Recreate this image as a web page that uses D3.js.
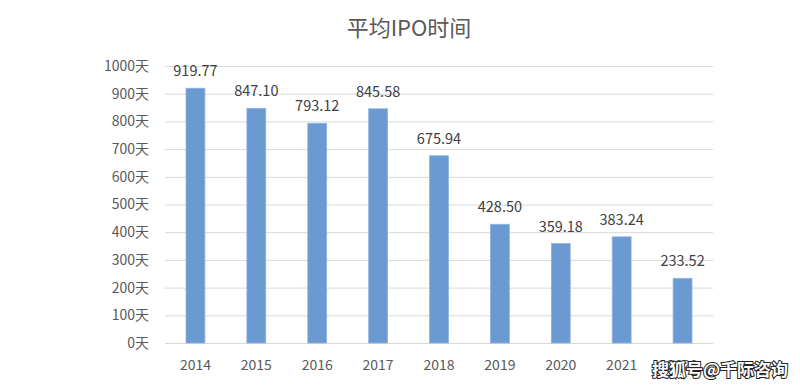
<!DOCTYPE html>
<html>
<head>
<meta charset="utf-8">
<script src="https://cdn.jsdelivr.net/npm/d3@7"></script>
<style>
  body { margin: 0; background: #fff; }
  text { font-family: "Noto Sans CJK SC", "Noto Sans", sans-serif; }
</style>
</head>
<body>
<svg width="800" height="387"></svg>
<script>
// data
var years = ["2014", "2015", "2016", "2017", "2018", "2019", "2020", "2021", "2022"];
var days = [919.77, 847.10, 793.12, 845.58, 675.94, 428.50, 359.18, 383.24, 233.52];
var yTicks = [0, 100, 200, 300, 400, 500, 600, 700, 800, 900, 1000];

var svg = d3.select("svg");
var plotLeft = 165, plotRight = 713, plotTop = 66, plotBottom = 343;

var x = d3.scaleBand()
    .domain(years)
    .range([plotLeft, plotRight])
    .paddingInner(0.69)
    .paddingOuter(0.345);

var y = d3.scaleLinear()
    .domain([0, 1000])
    .range([plotBottom, plotTop]);

// title
svg.append("text")
    .attr("x", 409)
    .attr("y", 36)
    .attr("text-anchor", "middle")
    .attr("font-size", 22)
    .attr("fill", "#595959")
    .text("平均IPO时间");

// grid + y labels
var yAxis = d3.axisLeft(y)
    .tickValues(yTicks)
    .tickSize(-(plotRight - plotLeft))
    .tickPadding(16)
    .tickFormat(d => d + "天");

var gy = svg.append("g")
    .attr("transform", "translate(" + plotLeft + ",0)")
    .call(yAxis);
gy.select(".domain").remove();
gy.selectAll(".tick line").attr("stroke", "#d9d9d9");
gy.selectAll(".tick text")
    .attr("fill", "#595959")
    .attr("font-size", 14);

// x labels
var xAxis = d3.axisBottom(x).tickSize(0).tickPadding(17);
var gx = svg.append("g")
    .attr("transform", "translate(0," + plotBottom + ")")
    .call(xAxis);
gx.select(".domain").remove();
gx.selectAll(".tick text")
    .attr("fill", "#595959")
    .attr("font-size", 14);

// bars
svg.selectAll(".bar")
    .data(days)
    .enter().append("rect")
    .attr("class", "bar")
    .attr("x", (d, i) => x(years[i]))
    .attr("y", d => y(d))
    .attr("width", x.bandwidth())
    .attr("height", d => plotBottom - y(d))
    .attr("fill", "#6a9ad1")
    .attr("stroke", "#8db3e2")
    .attr("stroke-width", 0.8);

// value labels
svg.selectAll(".val")
    .data(days)
    .enter().append("text")
    .attr("class", "val")
    .attr("x", (d, i) => x(years[i]) + x.bandwidth() / 2)
    .attr("y", d => y(d) - 12)
    .attr("text-anchor", "middle")
    .attr("font-size", 14.5)
    .attr("fill", "#404040")
    .text(d => d.toFixed(2));

// source mark in the corner
svg.append("text")
    .attr("x", 652)
    .attr("y", 376)
    .attr("font-size", 17)
    .attr("font-weight", "bold")
    .attr("fill", "#fff")
    .attr("stroke", "#222")
    .attr("stroke-width", 2)
    .attr("paint-order", "stroke")
    .text("搜狐号@千际咨询");
</script>
</body>
</html>
